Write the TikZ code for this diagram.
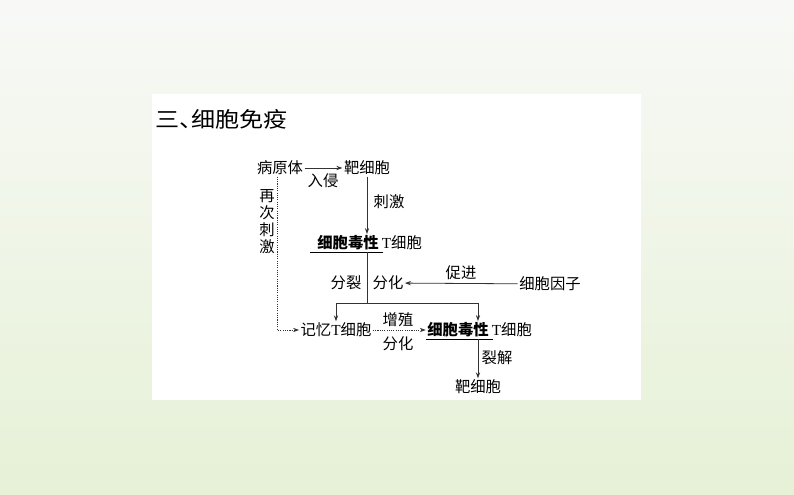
\documentclass[tikz,border=0pt]{standalone}
\usepackage{fontspec}
\usepackage{graphicx}
\setmainfont{Noto Sans CJK SC}
\newfontfamily\tfont{Liberation Serif}
\usetikzlibrary{arrows.meta}

\begin{document}
\begin{tikzpicture}[x=0.75pt,y=0.75pt,yscale=-1,
        txt/.style={inner sep=1pt,font=\fontsize{11.5}{13}\selectfont},
        cu/.style={txt,font=\fontsize{11.5}{13}\selectfont\bfseries},
        xian/.style={draw=black!80,line width=0.6pt},
        jiantou/.style={xian,-{Stealth[length=4.5pt,width=3.2pt]}},
        xuxian/.style={jiantou,dash pattern=on 0.8pt off 0.9pt}]
        \useasboundingbox (0,0) rectangle (794,495);

        %Background
        \shade[top color={rgb,255:red,248;green,249;blue,247},middle color={rgb,255:red,246;green,248;blue,242},bottom color={rgb,255:red,230;green,241;blue,214}] (0,0) rectangle (794,495);
        \fill[white] (152,94) rectangle (641,400);

        % Title
        \node[anchor=west,inner sep=0pt,font=\fontsize{16}{18}\selectfont] (biaoti) at (155,119) {\scalebox{1.13}[1]{三\makebox[0.5em][l]{、}细胞免疫}};

        % Text Nodes
        \node[txt] (yuan) at (280,168) {病原体};
        \node[txt] (ba1) at (367,168) {靶细胞};
        \node[txt] (qin) at (323,181) {入侵};
        \node[txt] (ci) at (389,202) {刺激};
        \node[txt,align=center,font=\fontsize{11.5}{12.8}\selectfont] (zaici) at (267,222) {再\\次\\刺\\激};
        \node[cu] (xdA) at (348,243) {细胞毒性};
        \node[txt,anchor=west] (tA) at (xdA.east) {{\tfont T}细胞};
        \node[txt] (lie) at (346,283) {分裂};
        \node[txt] (hua1) at (388,283) {分化};
        \node[txt] (cu) at (461,273) {促进};
        \node[txt] (yinzi) at (550,284) {细胞因子};
        \node[txt] (jiyi) at (336,330) {记忆{\tfont T}细胞};
        \node[txt] (zeng) at (398,320) {增殖};
        \node[txt] (hua2) at (398,344) {分化};
        \node[cu] (xdB) at (458,330) {细胞毒性};
        \node[txt,anchor=west] (tB) at (xdB.east) {{\tfont T}细胞};
        \node[txt] (jie) at (497,358) {裂解};
        \node[txt] (ba2) at (478,387) {靶细胞};

        % Underlines
        \draw[xian,black] ([xshift=-4]xdA.south west) -- ([xshift=2]xdA.south east);
        \draw[xian,black] (xdB.south west) -- ([xshift=2]xdB.south east);

        % Lines
        \coordinate (fen) at (367,303);
        \draw[jiantou] (yuan) -- (ba1);
        \draw[jiantou] (ba1) -- (ba1 |- xdA.north);
        \draw[xian] (fen |- xdA.south) -- (fen);
        \draw[jiantou] (fen) -| (jiyi.north);
        \draw[jiantou] (fen) -| (ba2.north |- xdB.north);
        \draw[jiantou] (yinzi) -- (hua1);
        \draw[xuxian] ([xshift=-2]yuan.south) |- (jiyi);
        \draw[xuxian] (jiyi) -- (xdB);
        \draw[jiantou] (xdB.south -| ba2) -- (ba2);

\end{tikzpicture}
\end{document}
